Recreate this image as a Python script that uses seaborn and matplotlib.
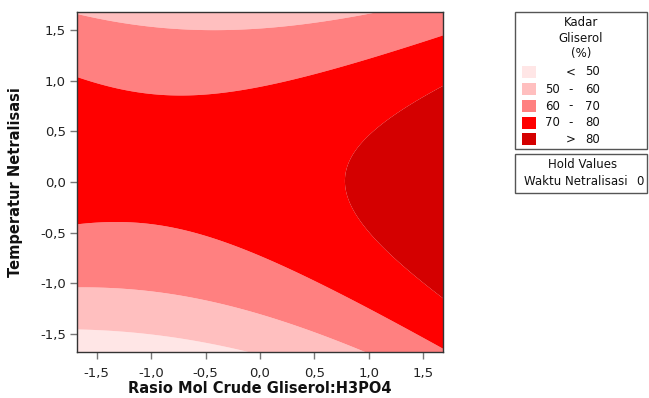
import numpy as np
import matplotlib
matplotlib.use("Agg")
import matplotlib.pyplot as plt
from matplotlib.patches import Rectangle
from matplotlib.ticker import FuncFormatter, FixedLocator
import seaborn as sns

# Fitted second-order response surface (coded units):
# Kadar Gliserol = b0 + b1*x + b2*y + b11*x^2 + b22*y^2 + b12*x*y
# x = Rasio Mol Crude Gliserol:H3PO4, y = Temperatur Netralisasi, Waktu Netralisasi held at 0
term_names = ["b0", "b1", "b2", "b11", "b22", "b12"]
coef_values = [75.3, 4.48, 1.62, 1.975, -7.7, -1.875]

level_bounds = [50, 60, 70, 80]
legend_labels = [("", "<", "50"), ("50", "-", "60"), ("60", "-", "70"), ("70", "-", "80"), ("", ">", "80")]
band_colors = ["#FFE6E6", "#FFBFBF", "#FF8080", "#FF0000", "#D40000"]

tick_values = [-1.5, -1.0, -0.5, 0.0, 0.5, 1.0, 1.5]
axis_limit = 1.682

sns.set_theme(style="white")
plt.rcParams["font.family"] = ["DejaVu Sans"]

W, H = 649, 398
fig = plt.figure(figsize=(W / 100, H / 100), dpi=100)
ax = fig.add_axes([77 / W, 1 - 352 / H, 366 / W, 340 / H])

c = dict(zip(term_names, coef_values))
gx = np.linspace(-axis_limit, axis_limit, 400)
gy = np.linspace(-axis_limit, axis_limit, 400)
X, Y = np.meshgrid(gx, gy)
Z = (c["b0"] + c["b1"] * X + c["b2"] * Y + c["b11"] * X ** 2
     + c["b22"] * Y ** 2 + c["b12"] * X * Y)

levels = [min(Z.min(), level_bounds[0]) - 1] + level_bounds + [max(Z.max(), level_bounds[-1]) + 1]
ax.contourf(X, Y, Z, levels=levels, colors=band_colors, antialiased=True)

ax.set_xlim(-axis_limit, axis_limit)
ax.set_ylim(-axis_limit, axis_limit)
fmt = FuncFormatter(lambda v, p: f"{v:.1f}".replace(".", ","))
ax.xaxis.set_major_locator(FixedLocator(tick_values))
ax.yaxis.set_major_locator(FixedLocator(tick_values))
ax.xaxis.set_major_formatter(fmt)
ax.yaxis.set_major_formatter(fmt)
ax.tick_params(axis="both", which="major", direction="out", length=5, width=1,
               color="#777777", labelsize=9.5, labelcolor="#222222",
               bottom=True, left=True)
ax.tick_params(axis="x", pad=6)
ax.tick_params(axis="y", pad=3)
for s in ax.spines.values():
    s.set_color("#333333")
    s.set_linewidth(1)

ax.set_xlabel("Rasio Mol Crude Gliserol:H3PO4", fontsize=10.5, fontweight="bold",
              color="#111111", va="top")
ax.set_ylabel("Temperatur Netralisasi", fontsize=10.5, fontweight="bold",
              color="#111111", va="center")
ax.xaxis.set_label_coords(0.5, (352 - 381) / 340)
ax.yaxis.set_label_coords((16 - 77) / 366, 0.5)


def fx(px):
    return px / W


def fy(py):
    return 1 - py / H


# Legend box for the contour bands
fig.patches.append(Rectangle((fx(515), fy(149)), (647 - 515) / W, (149 - 12) / H,
                             transform=fig.transFigure, fill=False,
                             edgecolor="#555555", linewidth=1))
for txt, yy in [("Kadar", 22.5), ("Gliserol", 39), ("(%)", 54)]:
    fig.text(fx(581), fy(yy), txt, ha="center", va="center", fontsize=8.5, color="#111111")

row_y = [71.7, 89.3, 106, 122.7, 139.3]
for (lo, sep, hi), col, yy in zip(legend_labels, band_colors, row_y):
    fig.patches.append(Rectangle((fx(521.5), fy(yy + 6)), 14.5 / W, 12 / H,
                                 transform=fig.transFigure, facecolor=col,
                                 edgecolor="none"))
    if lo:
        fig.text(fx(552.5), fy(yy), lo, ha="center", va="center", fontsize=8.5, color="#111111")
    fig.text(fx(571), fy(yy), sep, ha="center", va="center", fontsize=8.5, color="#111111")
    fig.text(fx(592.5), fy(yy), hi, ha="center", va="center", fontsize=8.5, color="#111111")

# Hold values box
fig.patches.append(Rectangle((fx(515), fy(193)), (647 - 515) / W, (193 - 154) / H,
                             transform=fig.transFigure, fill=False,
                             edgecolor="#555555", linewidth=1))
fig.text(fx(583), fy(165), "Hold Values", ha="center", va="center", fontsize=8.5, color="#111111")
fig.text(fx(524), fy(181.5), "Waktu Netralisasi", ha="left", va="center", fontsize=8.5, color="#111111")
fig.text(fx(640), fy(181.5), "0", ha="center", va="center", fontsize=8.5, color="#111111")

fig.savefig("out.png", dpi=100)
